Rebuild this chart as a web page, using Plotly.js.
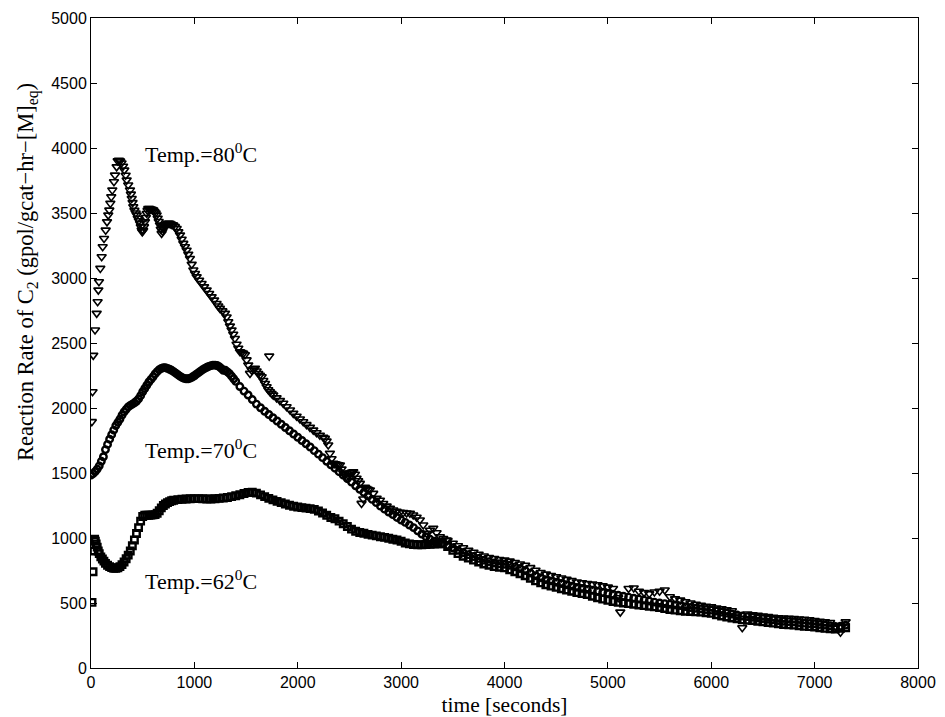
<!DOCTYPE html>
<html>
<head>
<meta charset="utf-8">
<script src="https://cdn.plot.ly/plotly-3.0.1.min.js"></script>
<style>html,body{margin:0;padding:0;background:#fff}#chart{width:945px;height:717px}</style>
</head>
<body>
<div id="chart"></div>
<script>
// ---- Temp = 80 C (open down-triangles) ----
const t80 = [8,15,22,39,55,64,71,77,90,103,113,126,142,155,167,177,187,196,206,222,232,248,258,270,282,295,310,322,335,345,360,377,386,394,402,409,420,432,442,452,463,474,482,490,496,505,513,522,531,539,547,554,565,578,590,603,614,625,635,645,655,667,675,683,692,700,708,716,727,738,748,760,772,784,796,812,829,845,861,877,893,909,925,941,957,974,990,1006,1022,1046,1070,1094,1119,1143,1167,1191,1215,1231,1247,1271,1296,1312,1328,1344,1360,1376,1392,1408,1425,1441,1457,1473,1489,1505,1521,1538,1554,1570,1586,1602,1618,1634,1651,1667,1683,1699,1715,1724,1731,1747,1763,1795,1828,1860,1892,1925,1957,1989,2021,2053,2085,2118,2150,2182,2214,2247,2263,2279,2295,2311,2327,2343,2360,2376,2392,2408,2424,2440,2456,2472,2489,2505,2521,2537,2553,2569,2585,2601,2617,2634,2650,2666,2682,2698,2730,2763,2795,2827,2860,2892,2924,2956,2988,3020,3053,3085,3117,3150,3181,3214,3246,3279,3311,3343,3375,3408,3440,3450,3500,3550,3600,3650,3700,3750,3800,3850,3900,3950,4000,4050,4100,4150,4200,4250,4300,4350,4400,4450,4500,4550,4600,4650,4700,4750,4800,4850,4900,4950,5000,5050,5100,5120,5200,5250,5300,5350,5400,5450,5500,5550,5600,5650,5700,5750,5800,5850,5900,5950,6000,6050,6100,6150,6200,6250,6300,6350,6400,6450,6500,6550,6600,6650,6700,6750,6800,6850,6900,6950,7000,7050,7100,7150,7200,7250,7300];
const r80 = [1895,2125,2405,2600,2728,2817,2907,2971,3074,3163,3240,3304,3368,3432,3484,3522,3574,3624,3676,3740,3791,3855,3901,3905,3900,3885,3860,3830,3790,3753,3715,3676,3645,3612,3580,3548,3520,3500,3484,3460,3440,3420,3395,3368,3355,3365,3395,3432,3465,3496,3520,3535,3535,3530,3527,3522,3510,3500,3484,3460,3435,3407,3375,3343,3360,3378,3390,3400,3412,3418,3420,3420,3415,3410,3407,3395,3381,3355,3330,3298,3266,3240,3214,3182,3150,3105,3061,3035,3009,2983,2958,2932,2907,2881,2855,2830,2804,2785,2766,2747,2728,2700,2663,2630,2599,2567,2535,2490,2460,2433,2426,2420,2410,2370,2330,2266,2290,2300,2305,2285,2265,2252,2240,2212,2188,2163,2140,2399,2125,2112,2099,2078,2057,2036,2010,1985,1959,1937,1915,1894,1872,1851,1830,1810,1790,1775,1766,1745,1715,1651,1610,1574,1570,1566,1563,1561,1530,1500,1485,1471,1480,1500,1505,1510,1490,1460,1440,1420,1266,1300,1390,1380,1372,1369,1343,1305,1290,1265,1245,1228,1215,1205,1198,1195,1192,1190,1177,1160,1138,1100,1036,1060,1074,1040,1010,995,984,980,960,940,925,905,890,875,862,850,842,835,830,822,812,800,790,772,752,735,722,712,702,692,682,672,662,656,650,645,640,632,622,612,540,430,612,615,590,580,572,585,590,600,548,532,522,510,500,490,482,475,470,462,455,447,440,400,310,415,410,405,400,395,390,387,385,382,380,377,375,370,365,360,355,350,320,275,355];

// ---- Temp = 70 C (open circles) ----
const t70 = [0,20,40,60,80,100,120,140,160,180,200,220,240,260,280,300,320,340,360,380,400,420,440,460,480,500,520,540,560,580,600,620,640,660,680,700,720,740,760,780,800,820,840,860,880,900,920,940,960,980,1000,1020,1040,1060,1080,1100,1120,1140,1160,1180,1200,1220,1240,1260,1280,1300,1320,1340,1360,1380,1400,1440,1480,1520,1560,1600,1640,1680,1720,1760,1800,1840,1880,1920,1960,2000,2040,2080,2120,2160,2200,2240,2280,2320,2360,2400,2440,2480,2520,2560,2600,2640,2680,2720,2760,2800,2840,2880,2920,2960,3000,3040,3080,3120,3160,3200,3240,3280,3320,3360,3400,3450,3500,3550,3600,3650,3700,3750,3800,3850,3900,3950,4000,4050,4100,4150,4200,4250,4300,4350,4400,4450,4500,4550,4600,4650,4700,4750,4800,4850,4900,4950,5000,5050,5100,5150,5200,5250,5300,5350,5400,5450,5500,5550,5600,5650,5700,5750,5800,5850,5900,5950,6000,6050,6100,6150,6200,6250,6300,6350,6400,6450,6500,6550,6600,6650,6700,6750,6800,6850,6900,6950,7000,7050,7100,7150,7200,7250,7300];
const r70 = [1484,1495,1510,1530,1555,1590,1625,1680,1720,1760,1795,1830,1865,1890,1915,1945,1970,1990,2008,2020,2030,2040,2052,2070,2095,2125,2150,2175,2200,2220,2240,2262,2280,2295,2305,2310,2310,2305,2298,2290,2280,2268,2256,2245,2235,2228,2225,2225,2230,2238,2248,2260,2272,2284,2295,2305,2313,2320,2326,2330,2330,2327,2318,2305,2290,2290,2278,2264,2245,2225,2205,2165,2130,2100,2065,2030,2002,1975,1950,1925,1900,1875,1850,1825,1800,1775,1750,1725,1700,1672,1645,1618,1590,1563,1537,1510,1483,1456,1430,1402,1375,1350,1323,1297,1272,1245,1222,1200,1180,1158,1138,1120,1100,1080,1055,1030,1010,990,975,965,958,945,925,905,888,872,858,843,830,818,808,802,798,790,778,765,750,730,710,694,680,670,660,650,640,630,620,612,605,598,590,582,575,567,560,552,545,537,530,522,515,507,500,495,490,485,480,472,465,460,455,450,445,438,430,422,415,408,400,395,390,385,380,375,370,365,360,357,355,350,345,342,340,335,330,325,320,322,330];

// ---- Temp = 62 C (open squares) ----
const t62 = [10,20,28,35,42,50,60,70,80,95,110,125,140,160,180,200,220,240,260,280,300,320,340,360,380,400,420,440,460,480,500,520,540,560,580,600,620,640,660,680,700,720,740,760,780,800,840,880,920,960,1000,1040,1080,1120,1160,1200,1240,1280,1320,1360,1400,1440,1480,1520,1560,1600,1640,1680,1720,1760,1800,1840,1880,1920,1960,2000,2040,2080,2120,2160,2200,2240,2280,2320,2360,2400,2440,2480,2520,2560,2600,2640,2680,2720,2760,2800,2840,2880,2920,2960,3000,3040,3080,3120,3160,3200,3240,3280,3320,3360,3400,3450,3500,3550,3600,3650,3700,3750,3800,3850,3900,3950,4000,4050,4100,4150,4200,4250,4300,4350,4400,4450,4500,4550,4600,4650,4700,4750,4800,4850,4900,4950,5000,5050,5100,5150,5200,5250,5300,5350,5400,5450,5500,5550,5600,5650,5700,5750,5800,5850,5900,5950,6000,6050,6100,6150,6200,6250,6300,6350,6400,6450,6500,6550,6600,6650,6700,6750,6800,6850,6900,6950,7000,7050,7100,7150,7200,7250,7300];
const r62 = [505,740,900,990,975,955,930,900,880,855,838,822,805,790,780,772,767,766,770,780,795,815,840,868,900,940,985,1035,1080,1130,1165,1175,1175,1175,1176,1178,1180,1190,1210,1232,1250,1262,1272,1280,1286,1290,1295,1298,1300,1302,1303,1303,1302,1300,1300,1302,1305,1308,1312,1318,1325,1333,1342,1350,1352,1345,1332,1318,1305,1293,1282,1272,1262,1252,1244,1238,1234,1230,1226,1220,1208,1192,1175,1158,1148,1130,1110,1088,1068,1052,1042,1036,1028,1022,1016,1010,1005,998,990,985,975,962,955,950,948,948,950,952,954,956,955,935,905,880,860,845,830,815,800,790,780,775,770,755,740,725,710,690,670,655,640,630,620,610,600,590,580,572,565,552,540,530,520,512,505,500,495,490,485,480,475,470,465,458,450,445,440,437,435,432,430,425,420,410,400,392,385,378,370,367,365,360,355,350,345,340,335,332,330,325,320,318,315,310,305,302,300,305,310];

const xTicks = [0,1000,2000,3000,4000,5000,6000,7000,8000];
const yTicks = [0,500,1000,1500,2000,2500,3000,3500,4000,4500,5000];
const labels = ["Temp.=80<sup>0</sup>C","Temp.=70<sup>0</sup>C","Temp.=62<sup>0</sup>C"];
const labelX = [500,500,500];
const labelY = [3965,1685,678];
const yTitle = "Reaction Rate of C<sub>2</sub> (gpol/gcat\u2212hr\u2212[M]<sub>eq</sub>)";
const xTitle = "time [seconds]";

const serif = "Liberation Serif, Times New Roman, serif";
const sans = "Liberation Sans, Arial, Helvetica, sans-serif";

const traces = [
  {x:t80, y:r80, mode:"markers", type:"scatter", name:"80",
   marker:{symbol:"triangle-down-open", size:8, color:"#000", line:{width:1.6,color:"#000"}}},
  {x:t70, y:r70, mode:"markers", type:"scatter", name:"70",
   marker:{symbol:"circle-open", size:6.5, color:"#000", line:{width:2.4,color:"#000"}}},
  {x:t62, y:r62, mode:"markers", type:"scatter", name:"62",
   marker:{symbol:"square-open", size:6.5, color:"#000", line:{width:2.4,color:"#000"}}}
];

const annotations = labels.map((txt,i)=>({
  x:labelX[i], y:labelY[i], xref:"x", yref:"y", text:txt, showarrow:false,
  xanchor:"left", yanchor:"middle", font:{family:serif, size:22, color:"#000"}
}));
annotations.push({
  xref:"paper", yref:"paper", x:(27-91)/827, y:(668-272)/650, text:yTitle,
  textangle:-90, showarrow:false, xanchor:"center", yanchor:"middle",
  font:{family:serif, size:22.5, color:"#000"}
});

const axisCommon = {
  showgrid:false, zeroline:false, showline:true, linecolor:"#000", linewidth:1,
  mirror:"ticks", ticks:"inside", ticklen:6, tickcolor:"#000", tickwidth:1,
  tickfont:{family:sans, size:16, color:"#000"}
};

const layout = {
  width:945, height:717,
  margin:{l:91, r:27, t:18, b:49},
  paper_bgcolor:"#fff", plot_bgcolor:"#fff",
  showlegend:false,
  xaxis:Object.assign({}, axisCommon, {
    range:[0,8000], tickvals:xTicks, ticktext:xTicks.map(String),
    title:{text:xTitle, font:{family:serif, size:21.5, color:"#000"}, standoff:6}
  }),
  yaxis:Object.assign({}, axisCommon, {
    range:[0,5000], tickvals:yTicks, ticktext:yTicks.map(String)
  }),
  annotations:annotations
};

Plotly.newPlot("chart", traces, layout, {staticPlot:true, displayModeBar:false});
</script>
</body>
</html>
